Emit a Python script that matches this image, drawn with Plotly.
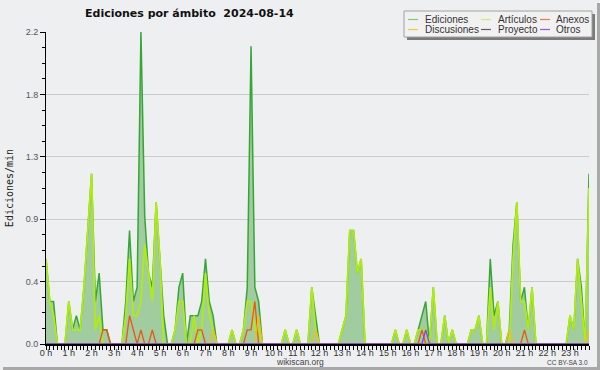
import plotly.graph_objects as go

# 10-minute buckets, one row per hour (6 values per row), edits per minute
ediciones = [
    0.6, 0.3, 0.3, 0, 0, 0,
    0.3, 0.1, 0.2, 0.1, 0.4, 0.8,
    1.2, 0.3, 0.5, 0.1, 0.1, 0,
    0, 0, 0, 0.3, 0.8, 0.3,
    0.4, 2.2, 0.9, 0.5, 0.4, 1.0,
    0.6, 0.2, 0, 0, 0.1, 0.4,
    0.5, 0, 0.2, 0.2, 0.2, 0.3,
    0.6, 0.3, 0.2, 0, 0, 0,
    0, 0.1, 0, 0, 0.1, 0.4,
    2.1, 0.4, 0.3, 0, 0, 0,
    0, 0, 0, 0.1, 0, 0,
    0.1, 0, 0, 0, 0.4, 0.2,
    0, 0, 0, 0, 0, 0,
    0.1, 0.2, 0.8, 0.8, 0.5, 0.6,
    0, 0, 0, 0, 0, 0,
    0, 0, 0.1, 0, 0, 0.1,
    0, 0, 0.1, 0.2, 0.3, 0,
    0.4, 0, 0, 0.2, 0, 0.1,
    0, 0, 0, 0, 0.1, 0.1,
    0.2, 0, 0, 0.6, 0.2, 0.3,
    0, 0, 0.1, 0.7, 1.0, 0.3,
    0.4, 0.1, 0.4, 0, 0, 0,
    0, 0, 0, 0, 0, 0,
    0.2, 0.1, 0.6, 0.4, 0, 1.2,
]
articulos = [
    0.6, 0.3, 0.2, 0, 0, 0,
    0.3, 0.1, 0.1, 0.1, 0.4, 0.8,
    1.2, 0.1, 0.2, 0, 0, 0,
    0, 0, 0, 0.2, 0.6, 0.2,
    0.2, 0.3, 0.7, 0.5, 0.3, 1.0,
    0.6, 0, 0, 0, 0.1, 0.3,
    0.3, 0, 0, 0.2, 0, 0.1,
    0.5, 0.2, 0.1, 0, 0, 0,
    0, 0.1, 0, 0, 0.1, 0.3,
    0.3, 0.1, 0.1, 0, 0, 0,
    0, 0, 0, 0.1, 0, 0,
    0.1, 0, 0, 0, 0.4, 0.1,
    0, 0, 0, 0, 0, 0,
    0.1, 0.2, 0.8, 0.8, 0.5, 0.6,
    0, 0, 0, 0, 0, 0,
    0, 0, 0.1, 0, 0, 0.1,
    0, 0, 0.1, 0.1, 0.1, 0,
    0.4, 0, 0, 0.2, 0, 0.1,
    0, 0, 0, 0, 0.1, 0.1,
    0.2, 0, 0, 0.4, 0.1, 0.3,
    0, 0, 0, 0.6, 1.0, 0.3,
    0.3, 0.1, 0.4, 0, 0, 0,
    0, 0, 0, 0, 0, 0,
    0.2, 0.1, 0.6, 0.3, 0, 1.1,
]
anexos = [
    0, 0, 0, 0, 0, 0,
    0, 0, 0, 0, 0, 0,
    0, 0, 0, 0.1, 0.1, 0,
    0, 0, 0, 0, 0.2, 0.1,
    0, 0.1, 0, 0, 0.1, 0,
    0, 0, 0, 0, 0, 0,
    0, 0, 0, 0, 0.1, 0.1,
    0, 0, 0, 0, 0, 0,
    0, 0, 0, 0, 0, 0.1,
    0.1, 0.3, 0, 0, 0, 0,
    0, 0, 0, 0, 0, 0,
    0, 0, 0, 0, 0, 0,
    0, 0, 0, 0, 0, 0,
    0, 0, 0, 0, 0, 0,
    0, 0, 0, 0, 0, 0,
    0, 0, 0, 0, 0, 0,
    0, 0, 0, 0.1, 0, 0,
    0, 0, 0, 0, 0, 0,
    0, 0, 0, 0, 0, 0,
    0, 0, 0, 0, 0, 0,
    0, 0, 0, 0, 0, 0,
    0.1, 0, 0, 0, 0, 0,
    0, 0, 0, 0, 0, 0,
    0, 0, 0, 0, 0, 0,
]
discusiones = [
    0, 0, 0, 0, 0, 0,
    0, 0, 0, 0, 0, 0,
    0, 0, 0, 0, 0, 0,
    0, 0, 0, 0, 0, 0,
    0, 0, 0, 0, 0, 0,
    0, 0, 0, 0, 0, 0,
    0, 0, 0, 0, 0, 0,
    0, 0, 0.1, 0, 0, 0,
    0, 0, 0, 0, 0, 0,
    0, 0, 0.2, 0, 0, 0,
    0, 0, 0, 0, 0, 0,
    0, 0, 0, 0, 0, 0.1,
    0, 0, 0, 0, 0, 0,
    0, 0, 0, 0, 0, 0,
    0, 0, 0, 0, 0, 0,
    0, 0, 0, 0, 0, 0,
    0, 0, 0, 0, 0, 0,
    0, 0, 0, 0, 0, 0,
    0, 0, 0, 0, 0, 0,
    0, 0, 0, 0, 0, 0,
    0, 0, 0.1, 0, 0, 0,
    0, 0, 0, 0, 0, 0,
    0, 0, 0, 0, 0, 0,
    0, 0, 0, 0, 0, 0.1,
]
proyecto = [
    0, 0, 0, 0, 0, 0,
    0, 0, 0, 0, 0, 0,
    0, 0, 0, 0, 0, 0,
    0, 0, 0, 0, 0, 0,
    0, 0, 0, 0, 0, 0,
    0, 0, 0, 0, 0, 0,
    0, 0, 0, 0, 0, 0,
    0, 0, 0, 0, 0, 0,
    0, 0, 0, 0, 0, 0,
    0, 0, 0, 0, 0, 0,
    0, 0, 0, 0, 0, 0,
    0, 0, 0, 0, 0, 0,
    0, 0, 0, 0, 0, 0,
    0, 0, 0, 0, 0, 0,
    0, 0, 0, 0, 0, 0,
    0, 0, 0, 0, 0, 0,
    0, 0, 0, 0, 0, 0,
    0, 0, 0, 0, 0, 0,
    0, 0, 0, 0, 0, 0,
    0, 0, 0, 0, 0, 0,
    0, 0, 0, 0, 0, 0,
    0, 0, 0, 0, 0, 0,
    0, 0, 0, 0, 0, 0,
    0, 0, 0, 0, 0, 0,
]
otros = [
    0, 0, 0, 0, 0, 0,
    0, 0, 0, 0, 0, 0,
    0, 0, 0, 0, 0, 0,
    0, 0, 0, 0, 0, 0,
    0, 0, 0, 0, 0, 0,
    0, 0, 0, 0, 0, 0,
    0, 0, 0, 0, 0, 0,
    0, 0, 0, 0, 0, 0,
    0, 0, 0, 0, 0, 0,
    0, 0, 0, 0, 0, 0,
    0, 0, 0, 0, 0, 0,
    0, 0, 0, 0, 0, 0,
    0, 0, 0, 0, 0, 0,
    0, 0, 0, 0, 0, 0,
    0, 0, 0, 0, 0, 0,
    0, 0, 0, 0, 0, 0,
    0, 0, 0, 0, 0.1, 0,
    0, 0, 0, 0, 0, 0,
    0, 0, 0, 0, 0, 0,
    0, 0, 0, 0, 0, 0,
    0, 0, 0, 0, 0, 0,
    0, 0, 0, 0, 0, 0,
    0, 0, 0, 0, 0, 0,
    0, 0, 0, 0, 0, 0,
]

series_names = ["Ediciones", "Artículos", "Anexos", "Discusiones", "Proyecto", "Otros"]
series_colors = ["#36a636", "#b0ec10", "#ee5511", "#f0c010", "#555555", "#8a3cf0"]
legend_colors = ["#80c880", "#c8ee70", "#ee7a4a", "#f0cc40", "#606060", "#9a55f0"]
title_text = "Ediciones por ámbito\u00a0 2024-08-14"
y_title = "Ediciones/min"

# x in hours (10-minute buckets)
x = [i / 6 for i in range(len(ediciones))]

BG = "#eeeff0"
W, H = 600, 370
L, R, T, B = 46, 11, 32, 26
PW, PH = W - L - R, H - T - B


def px(xp):
    return (xp - L) / PW


def py(yp):
    return (H - B - yp) / PH


fig = go.Figure()
fig.add_trace(go.Scatter(
    x=x, y=ediciones, name=series_names[0], mode="lines",
    line=dict(color=series_colors[0], width=1.5),
    fill="tozeroy", fillcolor="#a0cca0", showlegend=False))
others = [articulos, anexos, discusiones, proyecto, otros]
widths = [1.8, 1.3, 1.3, 1.2, 1.3]
for k, ys in enumerate(others, start=1):
    fig.add_trace(go.Scatter(
        x=x, y=ys, name=series_names[k], mode="lines",
        line=dict(color=series_colors[k], width=widths[k - 1]),
        showlegend=False))

shapes = []
annotations = []

# outer frame shadow (right / bottom)
shapes.append(dict(type="rect", xref="paper", yref="paper",
                   x0=px(597), x1=px(600), y0=py(3), y1=py(370),
                   fillcolor="#a8a8a8", line=dict(width=0), layer="above"))
shapes.append(dict(type="rect", xref="paper", yref="paper",
                   x0=px(3), x1=px(600), y0=py(367), y1=py(370),
                   fillcolor="#a8a8a8", line=dict(width=0), layer="above"))

# legend box with shadow
lx0, lx1, ly0, ly1 = 404, 592, 11, 37
shapes.append(dict(type="rect", xref="paper", yref="paper",
                   x0=px(lx0 + 3), x1=px(lx1 + 3), y0=py(ly0 + 3), y1=py(ly1 + 3),
                   fillcolor="#7a7a7a", line=dict(width=0), layer="above"))
shapes.append(dict(type="rect", xref="paper", yref="paper",
                   x0=px(lx0), x1=px(lx1), y0=py(ly0), y1=py(ly1),
                   fillcolor="#f1f1f1", line=dict(color="#a0a0a0", width=1), layer="above"))

col_sw = [408, 481, 540]
col_tx = [423, 496, 554]
row_y = [19.5, 29.5]
order = [(0, 0, 0), (1, 0, 1), (2, 0, 2), (3, 1, 0), (4, 1, 1), (5, 1, 2)]
for idx, r, c in order:
    shapes.append(dict(type="line", xref="paper", yref="paper",
                       x0=px(col_sw[c]), x1=px(col_sw[c] + 10),
                       y0=py(row_y[r]), y1=py(row_y[r]),
                       line=dict(color=legend_colors[idx], width=1.2), layer="above"))
    annotations.append(dict(xref="paper", yref="paper", x=px(col_tx[c]), y=py(row_y[r]),
                            xanchor="left", yanchor="middle", showarrow=False,
                            text=series_names[idx],
                            font=dict(family="Liberation Sans", size=10, color="#333333")))

annotations.append(dict(xref="paper", yref="paper", x=px(300), y=py(361.5),
                        xanchor="center", yanchor="middle", showarrow=False,
                        text="wikiscan.org",
                        font=dict(family="Liberation Sans", size=8.5, color="#444444")))
annotations.append(dict(xref="paper", yref="paper", x=px(590), y=py(362.5),
                        xanchor="right", yanchor="middle", showarrow=False,
                        text="CC BY-SA 3.0",
                        font=dict(family="Liberation Sans", size=6.5, color="#444444")))

fig.update_layout(
    width=W, height=H,
    margin=dict(l=L, r=R, t=T, b=B, pad=0, autoexpand=False),
    paper_bgcolor=BG, plot_bgcolor=BG,
    showlegend=False,
    title=dict(text=title_text, xref="container", yref="container",
               x=85 / W, xanchor="left", y=1 - 13.5 / H, yanchor="middle",
               automargin=False,
               font=dict(family="DejaVu Sans", size=11, color="#111111", weight="bold")),
    shapes=shapes, annotations=annotations,
    xaxis=dict(range=[0, x[-1]], tickmode="linear", tick0=0, dtick=1, ticksuffix=" h",
               automargin=False, ticklabelstandoff=-5,
               showgrid=False, zeroline=False, showline=True, linecolor="black", linewidth=2,
               ticks="outside", ticklen=4, tickcolor="black", tickwidth=1,
               tickfont=dict(family="Liberation Sans", size=9, color="#333333"),
               minor=dict(dtick=1 / 6, tick0=0, ticks="outside", ticklen=4,
                          tickcolor="black", tickwidth=1, showgrid=False),
               fixedrange=True),
    yaxis=dict(range=[0, 2.2], tickmode="linear", tick0=0, dtick=0.44, tickformat=".1f",
               automargin=False,
               showgrid=True, gridcolor="#cbcbcb", gridwidth=1, zeroline=False,
               showline=True, linecolor="black", linewidth=1,
               ticks="outside", ticklen=5, tickcolor="black", tickwidth=1,
               tickfont=dict(family="Liberation Sans", size=9, color="#555555"),
               minor=dict(dtick=0.11, tick0=0, ticks="outside", ticklen=3,
                          tickcolor="black", tickwidth=1, showgrid=False),
               title=dict(text=y_title, standoff=10,
                          font=dict(family="DejaVu Sans Mono", size=10, color="#222222")),
               fixedrange=True),
)

fig.write_html(
    "out.html",
    config={"displayModeBar": False, "responsive": False},
    post_script="document.body.style.margin='0';document.body.style.overflow='hidden';",
)
